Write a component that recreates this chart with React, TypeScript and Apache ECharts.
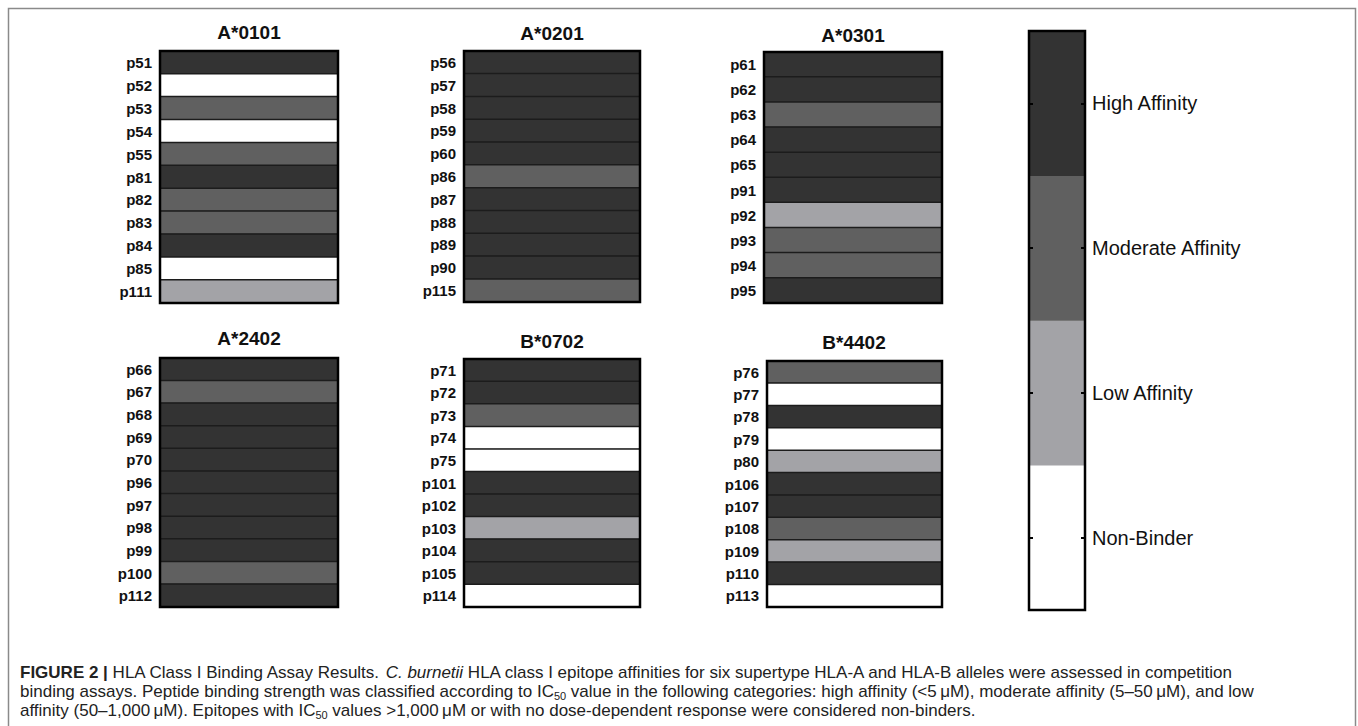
import React, { useEffect, useRef } from 'react';
import * as echarts from 'echarts';

// Affinity levels: 0 = Non-Binder, 1 = Low, 2 = Moderate, 3 = High
const levelNames = ['Non-Binder', 'Low Affinity', 'Moderate Affinity', 'High Affinity'];
const levelColors = ['#ffffff', '#a3a3a7', '#606060', '#333333'];

const alleles = ['A*0101', 'A*0201', 'A*0301', 'A*2402', 'B*0702', 'B*4402'];

const peptidesA0101 = ['p51', 'p52', 'p53', 'p54', 'p55', 'p81', 'p82', 'p83', 'p84', 'p85', 'p111'];
const affinityA0101 = [3, 0, 2, 0, 2, 3, 2, 2, 3, 0, 1];

const peptidesA0201 = ['p56', 'p57', 'p58', 'p59', 'p60', 'p86', 'p87', 'p88', 'p89', 'p90', 'p115'];
const affinityA0201 = [3, 3, 3, 3, 3, 2, 3, 3, 3, 3, 2];

const peptidesA0301 = ['p61', 'p62', 'p63', 'p64', 'p65', 'p91', 'p92', 'p93', 'p94', 'p95'];
const affinityA0301 = [3, 3, 2, 3, 3, 3, 1, 2, 2, 3];

const peptidesA2402 = ['p66', 'p67', 'p68', 'p69', 'p70', 'p96', 'p97', 'p98', 'p99', 'p100', 'p112'];
const affinityA2402 = [3, 2, 3, 3, 3, 3, 3, 3, 3, 2, 3];

const peptidesB0702 = ['p71', 'p72', 'p73', 'p74', 'p75', 'p101', 'p102', 'p103', 'p104', 'p105', 'p114'];
const affinityB0702 = [3, 3, 2, 0, 0, 3, 3, 1, 3, 3, 0];

const peptidesB4402 = ['p76', 'p77', 'p78', 'p79', 'p80', 'p106', 'p107', 'p108', 'p109', 'p110', 'p113'];
const affinityB4402 = [2, 0, 3, 0, 1, 3, 3, 2, 1, 3, 0];

const panelPeptides = [peptidesA0101, peptidesA0201, peptidesA0301, peptidesA2402, peptidesB0702, peptidesB4402];
const panelAffinity = [affinityA0101, affinityA0201, affinityA0301, affinityA2402, affinityB0702, affinityB4402];

// layout (pixels)
const panelRects = [
  { left: 160, top: 51, width: 178, height: 252 },
  { left: 464, top: 51, width: 176, height: 251 },
  { left: 764, top: 52, width: 178, height: 251 },
  { left: 160, top: 358, width: 178, height: 249 },
  { left: 464, top: 359, width: 176, height: 248 },
  { left: 767, top: 361, width: 175, height: 246 },
];
const titlePos = [
  [249, 32], [552, 33], [853, 35],
  [249, 338], [552, 341], [854, 342],
];
const legendRect = { left: 1029, top: 31, width: 56, height: 579 };

const SANS = "'Liberation Sans', Arial, Helvetica, sans-serif";

export default function App() {
  const ref = useRef<HTMLDivElement>(null);

  useEffect(() => {
    if (!ref.current) return;
    const chart = echarts.init(ref.current, undefined, { renderer: 'svg' });

    const grids: any[] = [];
    const xAxes: any[] = [];
    const yAxes: any[] = [];
    const series: any[] = [];

    panelPeptides.forEach((peps, i) => {
      grids.push({
        ...panelRects[i],
        show: true,
        borderColor: '#000',
        borderWidth: 2.5,
        backgroundColor: 'transparent',
        z: 5,
        containLabel: false,
        outerBoundsMode: 'none',
      });
      xAxes.push({ type: 'category', gridIndex: i, data: [''], show: false });
      yAxes.push({
        type: 'category',
        gridIndex: i,
        data: peps,
        inverse: true,
        axisLine: { show: false },
        axisTick: { show: false },
        axisLabel: {
          fontSize: 15,
          fontWeight: 'bold',
          color: '#111',
          margin: 8,
          fontFamily: SANS,
        },
      });
      series.push({
        type: 'heatmap',
        name: alleles[i],
        xAxisIndex: i,
        yAxisIndex: i,
        data: panelAffinity[i].map((v, j) => [0, j, v]),
        itemStyle: { borderColor: '#1c1c1c', borderWidth: 1.5 },
        emphasis: { disabled: true },
      });
    });

    // legend bar
    const gi = panelPeptides.length;
    grids.push({
      ...legendRect,
      show: true,
      borderColor: '#000',
      borderWidth: 2.5,
      backgroundColor: 'transparent',
      z: 5,
      containLabel: false,
      outerBoundsMode: 'none',
    });
    xAxes.push({ type: 'category', gridIndex: gi, data: [''], show: false });
    const tickStyle = {
      show: true,
      inside: true,
      length: 4,
      alignWithLabel: true,
      lineStyle: { color: '#000', width: 2 },
    };
    yAxes.push({
      type: 'category',
      gridIndex: gi,
      position: 'right',
      data: levelNames,
      z: 10,
      axisLine: { show: false },
      axisTick: tickStyle,
      axisLabel: { fontSize: 20, color: '#111', margin: 7, fontFamily: SANS },
    });
    yAxes.push({
      type: 'category',
      gridIndex: gi,
      position: 'left',
      data: levelNames,
      z: 10,
      axisLine: { show: false },
      axisTick: tickStyle,
      axisLabel: { show: false },
    });
    series.push({
      type: 'heatmap',
      name: 'legend',
      xAxisIndex: gi,
      yAxisIndex: gi,
      data: levelNames.map((_, j) => [0, j, j]),
      itemStyle: { borderWidth: 0 },
      emphasis: { disabled: true },
    });

    const capFont = { fontSize: 17, fontFamily: SANS, fill: '#222' };
    const LH = 19;
    const caption =
      '{b|FIGURE 2 |} HLA Class I Binding Assay Results. {i|C. burnetii} HLA class I epitope affinities for six supertype HLA-A and HLA-B alleles were assessed in competition\n' +
      'binding assays. Peptide binding strength was classified according to IC{s|50} value in the following categories: high affinity (<5\u2009\u03bcM), moderate affinity (5\u201350\u2009\u03bcM), and low\n' +
      'affinity (50\u20131,000\u2009\u03bcM). Epitopes with IC{s|50} values >1,000\u2009\u03bcM or with no dose-dependent response were considered non-binders.';

    const graphics: any[] = [
      {
        type: 'rect',
        shape: { x: 8.5, y: 8.5, width: 1347, height: 760 },
        style: { fill: 'none', stroke: '#8a8a8a', lineWidth: 1.5 },
        silent: true,
      },
      ...alleles.map((a, i) => ({
        type: 'text',
        x: titlePos[i][0],
        y: titlePos[i][1],
        style: {
          text: a,
          fontSize: 19,
          fontWeight: 'bold',
          fontFamily: SANS,
          fill: '#111',
          textAlign: 'center',
          textVerticalAlign: 'middle',
        },
        silent: true,
      })),
      {
        type: 'text',
        x: 20,
        y: 663,
        style: {
          text: caption,
          ...capFont,
          lineHeight: LH,
          textAlign: 'left',
          textVerticalAlign: 'top',
          rich: {
            b: { ...capFont, fontWeight: 'bold', lineHeight: LH },
            i: { ...capFont, fontStyle: 'italic', lineHeight: LH },
            s: { ...capFont, fontSize: 11, lineHeight: LH, padding: [8, 0, 0, 0] },
          },
        },
        silent: true,
      },
    ];

    chart.setOption({
      animation: false,
      backgroundColor: '#ffffff',
      grid: grids,
      xAxis: xAxes,
      yAxis: yAxes,
      visualMap: {
        type: 'piecewise',
        show: false,
        dimension: 2,
        seriesIndex: series.map((_, k) => k),
        pieces: levelColors.map((c, k) => ({ value: k, color: c })),
      },
      series,
      graphic: graphics,
    });

    return () => chart.dispose();
  }, []);

  return (
    <div
      ref={ref}
      style={{ position: 'absolute', left: 0, top: 0, width: 1358, height: 726 }}
    />
  );
}
